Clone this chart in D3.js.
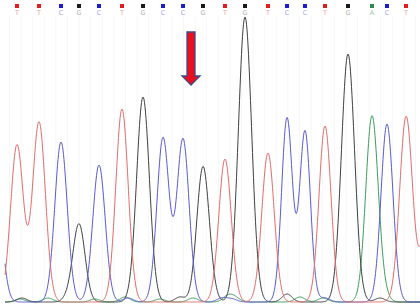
<!DOCTYPE html>
<html>
<head>
<meta charset="utf-8">
<script src="https://cdnjs.cloudflare.com/ajax/libs/d3/7.8.5/d3.min.js"></script>
<style>
  body { margin: 0; background: #fff; }
  svg { display: block; }
</style>
</head>
<body>
<script>
var w = 420,
    h = 307;

// Base calls
var bases = ['T','T','C','G','C','T','G','C','C','G','T','G','T','C','C','T','G','A','C','T'];
// Peak position (scan) for each call
var peakScan = [17, 39, 61, 79, 99, 122, 143, 163, 183, 203, 225, 245, 268, 287, 305, 325, 348, 372, 387, 406];
// Peak height (signal) for each call
var peakHeight = [157, 180, 160, 78, 137, 193, 205, 164, 163, 135, 143, 285, 149, 184, 171, 176, 248, 186, 178, 182];
// Peak width (scans, sd)
var peakWidth = [6.4, 6.4, 6.2, 6, 6.2, 6.2, 6.4, 6.1, 6.1, 6.2, 6.2, 6.6, 6.2, 5.4, 5.4, 6, 6.6, 6.2, 6, 6.4];

// Peaks cut off at the edges of the window
var edgeBases = ['C', 'T'];
var edgeScan = [-4, 428];
var edgeHeight = [110, 90];

// Small background bumps near the baseline
var noiseBases = ['G','A','A','G','A','A','C','A','G','A','G','A','C','C','A','G','A','C','A','G','A','T'];
var noiseScan  = [22, 20, 48, 68, 95, 125, 128, 160, 180, 193, 212, 228, 232, 222, 235, 287, 300, 325, 323, 380, 384, 410];
var noiseHeight = [4, 3, 4, 4, 3, 5, 4, 3, 5, 4, 3, 6, 3, 4, 4, 8, 5, 4, 4, 4, 6, 5];

var baseColor = { A: '#3d9e5c', C: '#5a5ad0', G: '#404040', T: '#e26c6c' };
var markColor = { A: '#2f8a4c', C: '#1c1cd6', G: '#1a1a1a', T: '#e41c1c' };
var letterColor = { A: '#9cc8aa', C: '#a6a6e8', G: '#b0b0b0', T: '#f0a4a4' };

var svg = d3.select('body')
            .append('svg')
            .attr('width', w)
            .attr('height', h);

var x = d3.scaleLinear()
          .domain([0, 420])
          .range([0, w]);

var y = d3.scaleLinear()
          .domain([0, 290])
          .range([302, 12]);

// faint column lines
svg.append('g')
   .attr('transform', 'translate(0,16)')
   .call(d3.axisBottom(x)
           .tickValues(d3.range(9, 420, 11.6))
           .tickSize(286)
           .tickFormat(''))
   .call(function(g) {
     g.select('.domain').remove();
     g.selectAll('line').attr('stroke', '#f7f7f7');
   });

// collect all peaks per base
var peaks = [];
bases.forEach(function(b, i) { peaks.push({ base: b, scan: peakScan[i], height: peakHeight[i], s: peakWidth[i] }); });
edgeBases.forEach(function(b, i) { peaks.push({ base: b, scan: edgeScan[i], height: edgeHeight[i], s: 6.2 }); });
noiseBases.forEach(function(b, i) { peaks.push({ base: b, scan: noiseScan[i], height: noiseHeight[i], s: 5 }); });

var signal = function(base, s) {
  var sum = 0;
  peaks.forEach(function(p) {
    if (p.base !== base) return;
    var d = s - p.scan;
    sum += p.height * Math.exp(-d * d / (2 * p.s * p.s));
  });
  return sum;
};

var scans = d3.range(5, 420.5, 0.5);

var line = d3.line()
             .x(function(d) { return x(d.scan); })
             .y(function(d) { return y(d.value); });

['A', 'G', 'C', 'T'].forEach(function(b) {
  var trace = scans.map(function(s) { return { scan: s, value: signal(b, s) }; });
  svg.append('path')
     .datum(trace)
     .attr('d', line)
     .attr('fill', 'none')
     .attr('stroke', baseColor[b])
     .attr('stroke-width', 1);
});

// base call labels
var calls = svg.selectAll('g.call')
               .data(bases)
               .enter()
               .append('g')
               .attr('class', 'call')
               .attr('transform', function(d, i) { return 'translate(' + x(peakScan[i]) + ',0)'; });

calls.append('rect')
     .attr('x', -2)
     .attr('y', 4)
     .attr('width', 4)
     .attr('height', 4)
     .attr('fill', function(d) { return markColor[d]; });

calls.append('text')
     .attr('x', 0)
     .attr('y', 14.5)
     .attr('text-anchor', 'middle')
     .style('font-family', 'DejaVu Sans, sans-serif')
     .style('font-size', '6.5px')
     .attr('fill', function(d) { return letterColor[d]; })
     .text(function(d) { return d; });

// arrow pointing at the site
var arrowScan = 191;
var ax = x(arrowScan);
svg.append('path')
   .attr('d', 'M' + (ax - 4) + ',32 L' + (ax + 4) + ',32 L' + (ax + 4) + ',76 L' + (ax + 9) + ',76 L' + ax + ',85 L' + (ax - 9) + ',76 L' + (ax - 4) + ',76 Z')
   .attr('fill', '#e8101c')
   .attr('stroke', '#3f4a8c')
   .attr('stroke-width', 1.3)
   .attr('stroke-linejoin', 'miter');
</script>
</body>
</html>
